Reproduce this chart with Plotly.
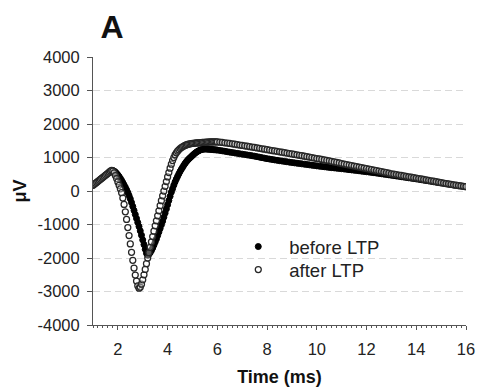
import numpy as np
import plotly.graph_objects as go

# Sample times (ms): 0.05 ms steps up to 6 ms, 0.1 ms steps afterwards
t_early = np.round(np.arange(1.0, 5.999, 0.05), 2)
t_late = np.round(np.arange(6.0, 16.001, 0.1), 2)

# after LTP (open circles), μV
after_early = [
    170, 200, 230, 260, 290, 320, 350, 380, 410, 440,
    470, 500, 530, 560, 590, 615, 595, 540, 460, 370,
    270, 170, 65, -50, -210, -400, -620, -850, -1090, -1330,
    -1580, -1830, -2070, -2300, -2510, -2690, -2830, -2900, -2870, -2780,
    -2650, -2500, -2340, -2170, -2000, -1840, -1680, -1520, -1360, -1200,
    -1040, -890, -740, -590, -440, -290, -145, 0, 140, 280,
    420, 550, 680, 800, 910, 1000, 1080, 1140, 1190, 1230,
    1265, 1295, 1320, 1340, 1360, 1375, 1390, 1400, 1410, 1415,
    1420, 1425, 1430, 1433, 1436, 1440, 1443, 1446, 1449, 1452,
    1455, 1458, 1460, 1462, 1464, 1466, 1467, 1468, 1468, 1467,
]
after_late = [
    1465, 1458, 1450, 1440, 1430,
    1420, 1408, 1396, 1384, 1372,
    1360, 1348, 1336, 1324, 1312,
    1300, 1287, 1274, 1261, 1248,
    1235, 1222, 1209, 1196, 1183,
    1170, 1157, 1144, 1131, 1118,
    1105, 1092, 1079, 1066, 1053,
    1040, 1026, 1012, 998, 984,
    970, 956, 942, 928, 914,
    900, 884, 868, 852, 836,
    820, 805, 790, 775, 760,
    745, 730, 715, 700, 685,
    670, 655, 640, 625, 610,
    595, 579, 563, 547, 531,
    515, 502, 489, 476, 463,
    450, 437, 424, 411, 398,
    385, 372, 359, 346, 333,
    320, 306, 292, 278, 264,
    250, 237, 224, 211, 198,
    185, 174, 163, 152, 141,
    130,
]

# before LTP (filled circles), μV
before_early = [
    170, 200, 230, 260, 290, 320, 350, 380, 410, 440,
    470, 500, 530, 560, 585, 605, 610, 595, 565, 525,
    480, 430, 375, 315, 250, 180, 110, 35, -45, -135,
    -235, -345, -460, -580, -700, -820, -940, -1060, -1190, -1320,
    -1460, -1600, -1740, -1860, -1920, -1890, -1840, -1775, -1700, -1615,
    -1525, -1430, -1330, -1225, -1120, -1010, -900, -780, -660, -535,
    -410, -285, -160, -35, 70, 175, 270, 355, 435, 510,
    580, 645, 705, 765, 820, 870, 915, 955, 990, 1025,
    1060, 1095, 1125, 1155, 1180, 1200, 1220, 1235, 1245, 1250,
    1252, 1252, 1250, 1248, 1245, 1242, 1238, 1234, 1230, 1226,
]
before_late = [
    1222, 1210, 1198, 1186, 1173,
    1160, 1148, 1136, 1124, 1112,
    1100, 1088, 1076, 1064, 1052,
    1040, 1025, 1010, 995, 980,
    965, 953, 941, 929, 917,
    905, 894, 883, 872, 861,
    850, 840, 830, 820, 810,
    800, 790, 780, 770, 760,
    750, 741, 732, 723, 714,
    705, 697, 689, 681, 673,
    665, 656, 647, 638, 629,
    620, 611, 602, 593, 584,
    575, 565, 555, 545, 535,
    525, 514, 503, 492, 481,
    470, 459, 448, 437, 426,
    415, 404, 393, 382, 371,
    360, 348, 336, 324, 312,
    300, 288, 276, 264, 252,
    240, 228, 216, 204, 192,
    180, 169, 158, 147, 136,
    125,
]

x_ticks = [2, 4, 6, 8, 10, 12, 14, 16]
y_ticks = [-4000, -3000, -2000, -1000, 0, 1000, 2000, 3000, 4000]

t = list(t_early) + list(t_late)
before = before_early + before_late
after = after_early + after_late

FONT = "Arial, Liberation Sans, sans-serif"

fig = go.Figure()
fig.add_trace(go.Scatter(
    x=t, y=before, mode="markers", name="before LTP", legend="legend",
    marker=dict(symbol="circle", size=6, color="#000000",
                line=dict(color="#000000", width=1)),
))
fig.add_trace(go.Scatter(
    x=t, y=after, mode="markers", name="after LTP", legend="legend2",
    marker=dict(symbol="circle", size=6, color="rgba(255,255,255,0.35)",
                line=dict(color="#262626", width=1.25)),
))

legend_common = dict(xanchor="left", yanchor="middle",
                     bgcolor="rgba(0,0,0,0)", borderwidth=0,
                     itemwidth=52, font=dict(size=18.5, color="#222222"))

fig.update_layout(
    width=485, height=387,
    margin=dict(l=93, r=19, t=57, b=62),
    paper_bgcolor="white", plot_bgcolor="white",
    font=dict(family=FONT, color="#222222"),
    title=dict(text="<b>A</b>", x=0.231, xanchor="center", y=0.930,
               yanchor="middle", xref="container", yref="container",
               font=dict(size=32, color="#111111", family=FONT)),
    legend=dict(x=0.360, y=0.291, **legend_common),
    legend2=dict(x=0.360, y=0.205, **legend_common),
    showlegend=True,
)

fig.update_xaxes(
    range=[1, 16], tickvals=x_ticks, ticktext=[str(v) for v in x_ticks],
    showgrid=False, zeroline=False, automargin=False,
    showline=True, linecolor="#555555", linewidth=1,
    ticks="outside", ticklen=4, tickcolor="#555555",
    minor=dict(dtick=0.2, ticks="outside", ticklen=2, tickcolor="#555555", showgrid=False),
    ticklabelstandoff=5,
    tickfont=dict(size=16.5, color="#222222"),
    title=dict(text="<b>Time (ms)</b>", font=dict(size=18, color="#111111"), standoff=13),
)
fig.update_yaxes(
    range=[-4000, 4000], tickvals=y_ticks, ticktext=[str(v) for v in y_ticks],
    showgrid=True, gridcolor="#d9d9d9", gridwidth=1, griddash="7px,4px",
    zeroline=False, automargin=False,
    showline=True, linecolor="#555555", linewidth=1,
    ticks="outside", ticklen=5, tickcolor="#555555",
    ticklabelstandoff=4,
    tickfont=dict(size=16.5, color="#222222"),
    title=dict(text="<b>μV</b>", font=dict(size=18, color="#111111"), standoff=6),
)

fig.write_html("out.html")
